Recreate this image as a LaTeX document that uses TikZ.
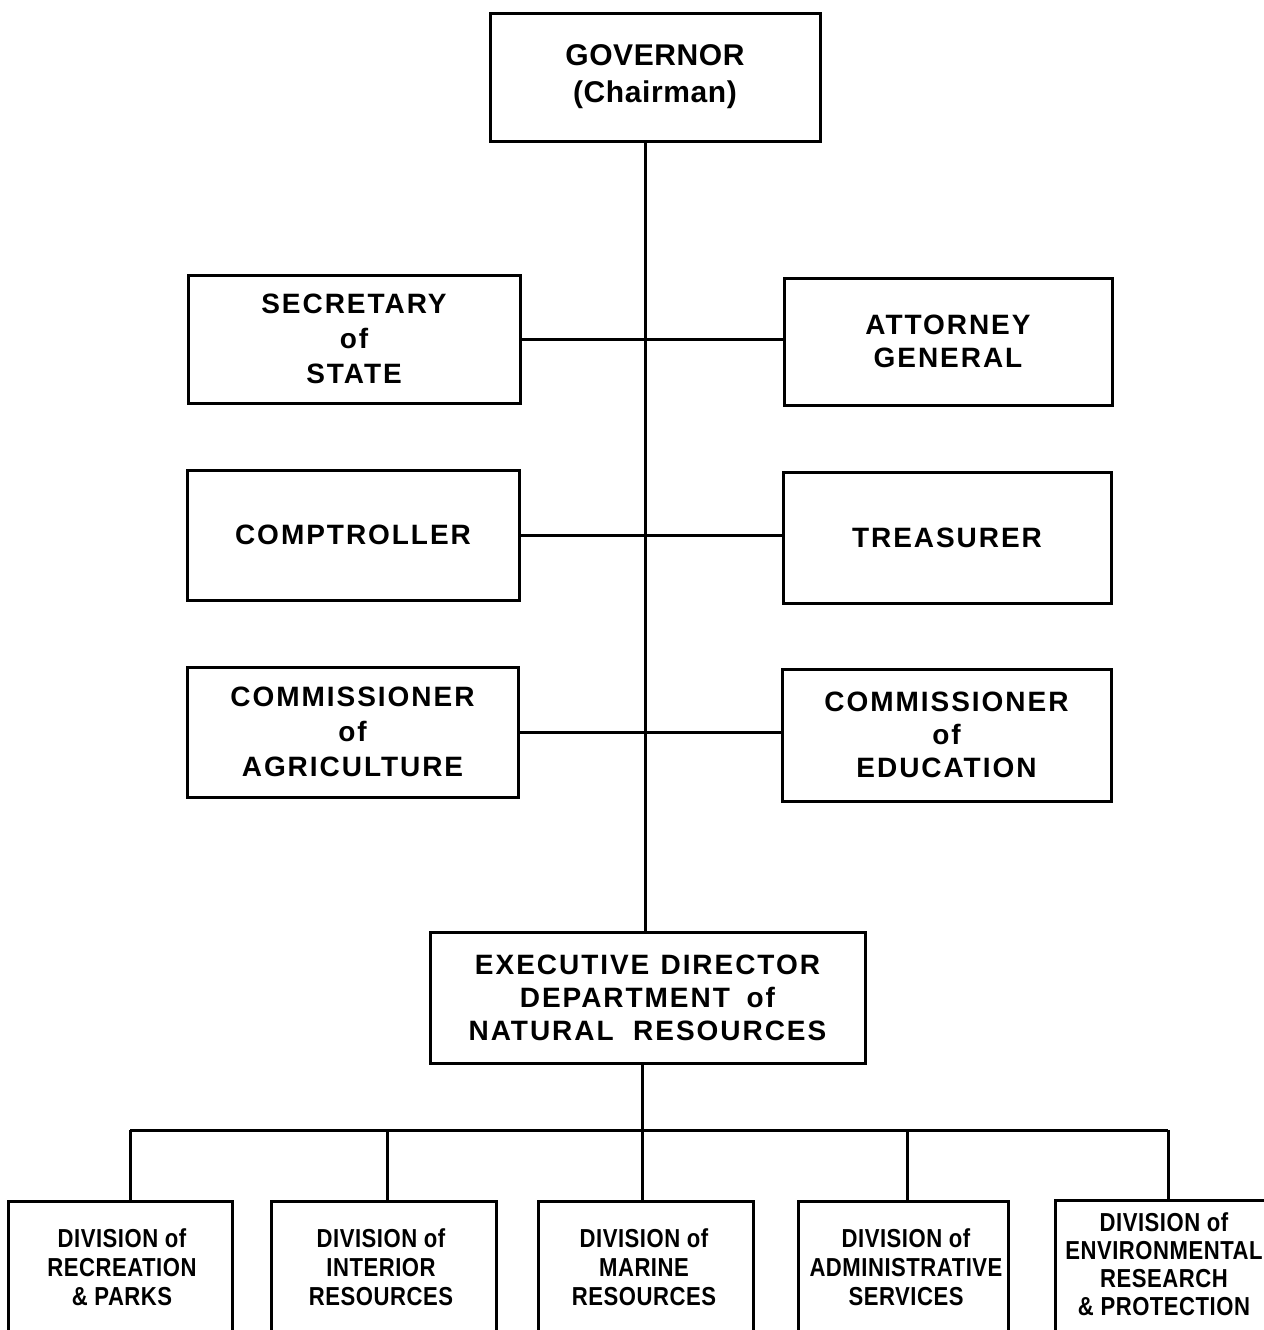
\documentclass[tikz,border=0pt]{standalone}
\usepackage{fontspec}
\newfontfamily\govfont{Liberation Sans}[BoldFont={Liberation Sans Bold},LetterSpace=2]
\newfontfamily\topfont{Liberation Sans}[BoldFont={Liberation Sans Bold},LetterSpace=7]
\newfontfamily\divfont{Liberation Sans Bold}[FakeStretch=0.85,LetterSpace=2]
\begin{document}
\begin{tikzpicture}[x=0.5pt,y=-0.5pt,
  line width=1.5pt,
  orgbox/.style={draw,rectangle,inner sep=0pt,align=center},
  govtext/.style={font={\govfont\bfseries\fontsize{15pt}{18.5pt}\selectfont}},
  toptext/.style={font={\topfont\bfseries\fontsize{14pt}{17.5pt}\selectfont}},
  divbox/.style={draw,rectangle,inner sep=0pt,anchor=north,minimum height=75pt},
  divtext/.style={inner sep=0pt,align=center,font={\divfont\fontsize{13pt}{14.5pt}\selectfont}}]
\clip (0,0) rectangle (1264,1330);
% top boxes
\node[orgbox,govtext,minimum width=165pt,minimum height=64pt] (gov) at (655,77) {GOVERNOR\\(Chairman)};
\node[orgbox,toptext,minimum width=166pt,minimum height=64pt] (sec) at (354,339) {SECRETARY\\of\\STATE};
\node[orgbox,toptext,minimum width=164pt,minimum height=63.5pt,font={\topfont\bfseries\fontsize{14pt}{16.5pt}\selectfont}] (att) at (948,341.5) {ATTORNEY\\GENERAL};
\node[orgbox,toptext,minimum width=166pt,minimum height=65pt] (comp) at (353,535) {COMPTROLLER};
\node[orgbox,toptext,minimum width=164pt,minimum height=65.5pt] (tre) at (947,537.5) {TREASURER};
\node[orgbox,toptext,minimum width=165.5pt,minimum height=65pt] (agr) at (352.5,732) {COMMISSIONER\\of\\AGRICULTURE};
\node[orgbox,toptext,minimum width=164.5pt,minimum height=66pt,font={\topfont\bfseries\fontsize{14pt}{16.5pt}\selectfont}] (edu) at (946.5,735) {COMMISSIONER\\of\\EDUCATION};
\node[orgbox,toptext,minimum width=217.5pt,minimum height=65.5pt,font={\topfont\bfseries\fontsize{14pt}{16.5pt}\selectfont}] (exec) at (647.5,997.5) {EXECUTIVE\hspace{0.4em}DIRECTOR\\DEPARTMENT\hspace{0.6em}of\\NATURAL\hspace{0.7em}RESOURCES};
% division boxes
\node[divbox,minimum width=112pt] (d1) at (120,1200) {};
\node[divbox,minimum width=112.5pt] (d2) at (383.5,1200) {};
\node[divbox,minimum width=107.5pt] (d3) at (645.5,1200) {};
\node[divbox,minimum width=105pt] (d4) at (903,1200) {};
\node[divbox,minimum width=110pt] (d5) at (1165,1199) {};
\node[divtext] (d1t) at (122,1267) {DIVISION of\\RECREATION\\\& PARKS};
\node[divtext] (d2t) at (381,1267) {DIVISION of\\INTERIOR\\RESOURCES};
\node[divtext] (d3t) at (644,1267) {DIVISION of\\MARINE\\RESOURCES};
\node[divtext] (d4t) at (906,1267) {DIVISION of\\ADMINISTRATIVE\\SERVICES};
\node[divtext,font={\divfont\fontsize{13pt}{14pt}\selectfont}] (d5t) at (1164,1264) {DIVISION of\\ENVIRONMENTAL\\RESEARCH\\\& PROTECTION};
% spine
\coordinate (sp) at (645,0);
\draw (gov.south -| sp) -- (exec.north -| sp);
\draw (sec.east) -- (sec.east -| att.west);
\draw (comp.east) -- (comp.east -| tre.west);
\draw (agr.east) -- (agr.east -| edu.west);
% bus
\coordinate (bus) at (642,1130);
\coordinate (j1) at (130,1130);
\coordinate (j2) at (387,1130);
\coordinate (j3) at (642,1130);
\coordinate (j4) at (907,1130);
\coordinate (j5) at (1168,1130);
\draw (exec.south -| bus) -- (bus);
\draw (j1) -- (j5);
\draw (j1) -- (j1 |- d1.north);
\draw (j2) -- (j2 |- d2.north);
\draw (j3) -- (j3 |- d3.north);
\draw (j4) -- (j4 |- d4.north);
\draw (j5) -- (j5 |- d5.north);
\end{tikzpicture}
\end{document}
